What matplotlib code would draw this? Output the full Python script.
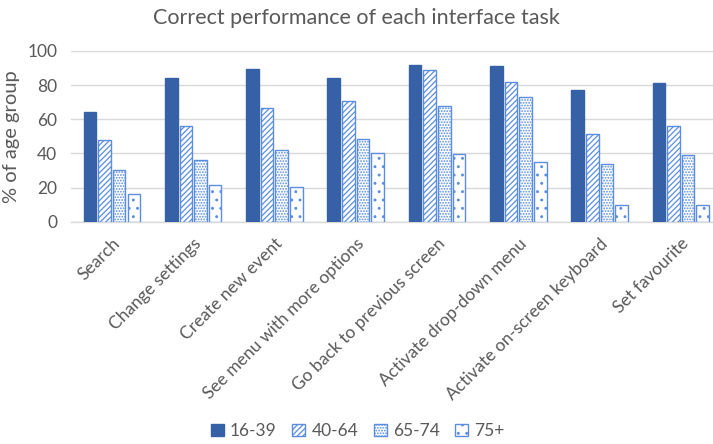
import matplotlib
matplotlib.use("Agg")
import matplotlib.pyplot as plt
from matplotlib.patches import Patch
import numpy as np

plt.rcParams['font.family'] = ['Lato', 'DejaVu Sans']
plt.rcParams['hatch.linewidth'] = 0.9

tasks = ["Search", "Change settings", "Create new event", "See menu with more options",
         "Go back to previous screen", "Activate drop-down menu",
         "Activate on-screen keyboard", "Set favourite"]
age_groups = ["16-39", "40-64", "65-74", "75+"]
v_16_39 = [64.5, 84, 89.5, 84, 92, 91, 77, 81]
v_40_64 = [48, 56, 66.5, 70.5, 89, 82, 51.5, 56]
v_65_74 = [30.5, 36, 42, 48.5, 68, 73, 34, 39]
v_75_plus = [16, 21.5, 20.5, 40.5, 39.5, 35, 9.5, 10]
y_ticks = [0, 20, 40, 60, 80, 100]

series = [v_16_39, v_40_64, v_65_74, v_75_plus]
dark = "#3761A6"
edge = "#5B8EE0"
fills = [dark, "white", "white", "white"]
hatches = [None, "//////", "......", ".."]

fig = plt.figure(figsize=(7.13, 4.44), dpi=100)
ax = fig.add_axes([0.0999, 0.5007, 0.912, 0.3845])

x = np.arange(len(tasks))
pitch = 0.18
width = 0.155
for i, vals in enumerate(series):
    offs = (i - 1.5) * pitch
    ax.bar(x + offs, vals, width, color=fills[i], edgecolor=edge if i else dark,
           hatch=hatches[i], linewidth=1.0, zorder=3)

ax.set_xlim(-0.5, len(tasks) - 0.5)
ax.set_ylim(0, 100)
ax.set_yticks(y_ticks)
ax.yaxis.grid(True, color="#D9D9D9", linewidth=1.0, zorder=0)
ax.set_axisbelow(True)
for s in ["top", "right", "left"]:
    ax.spines[s].set_visible(False)
ax.spines["bottom"].set_color("#D9D9D9")
ax.spines["bottom"].set_linewidth(1.0)
ax.tick_params(axis="both", length=0, colors="#595959", labelsize=12.5)
ax.tick_params(axis="y", pad=10)
ax.set_xticks(x)
ax.set_xticklabels(tasks, rotation=45, ha="right", rotation_mode="anchor",
                   fontsize=12.5, color="#595959")
ax.tick_params(axis="x", pad=10)
ax.set_ylabel("% of age group", fontsize=14.5, color="#595959", labelpad=5)

fig.text(0.5, 0.96, "Correct performance of each interface task",
         ha="center", va="center", fontsize=15.5, color="#595959")

handles = []
for i, g in enumerate(age_groups):
    handles.append(Patch(facecolor=fills[i], edgecolor=edge if i else dark,
                         hatch=hatches[i], label=g))
fig.legend(handles=handles, loc="center", bbox_to_anchor=(0.502, 0.029), ncol=4,
           frameon=False, fontsize=12.5, handlelength=0.75, handleheight=0.75,
           handletextpad=0.35, columnspacing=0.9, labelcolor="#595959")

fig.savefig("out.png", dpi=100)
